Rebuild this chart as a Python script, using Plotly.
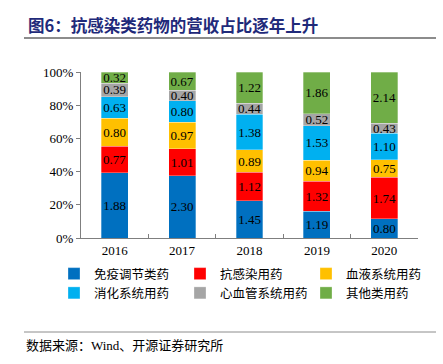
import plotly.graph_objects as go

years = ["2016", "2017", "2018", "2019", "2020"]
series_names = ["免疫调节类药", "抗感染用药", "血液系统用药", "消化系统用药", "心血管系统用药", "其他类用药"]
immune = [1.88, 2.30, 1.45, 1.19, 0.80]
anti_infect = [0.77, 1.01, 1.12, 1.32, 1.74]
blood = [0.80, 0.97, 0.89, 0.94, 0.75]
digest = [0.63, 0.80, 1.38, 1.53, 1.10]
cardio = [0.39, 0.40, 0.44, 0.52, 0.43]
other = [0.32, 0.67, 1.22, 1.86, 2.14]
y_ticks = [0, 20, 40, 60, 80, 100]
y_tick_labels = ["0%", "20%", "40%", "60%", "80%", "100%"]

series_values = [immune, anti_infect, blood, digest, cardio, other]
colors = ["#0070C0", "#FF0000", "#FFC000", "#00B0F0", "#A5A5A5", "#70AD47"]

SERIF = "Liberation Serif, Times New Roman, serif"
CJK = "Noto Sans CJK SC, sans-serif"

fig = go.Figure()
for name, vals, col in zip(series_names, series_values, colors):
    fig.add_trace(go.Bar(
        x=years, y=vals, name=name,
        marker=dict(color=col, line=dict(color="rgba(255,255,255,0.6)", width=0.5)),
        text=[f"{v:.2f}" for v in vals],
        texttemplate="%{text}",
        textposition="inside",
        insidetextanchor="middle",
        textangle=0,
        constraintext="none",
        textfont=dict(family=SERIF, size=13, color="black"),
        hoverinfo="skip",
    ))

W, H = 443, 364
L, R, T, B = 81, 25, 72, 126
pw, ph = W - L - R, H - T - B

def px(x):
    return (x - L) / pw

def py(y):
    return (H - B - y) / ph

fig.update_layout(
    width=W, height=H,
    margin=dict(l=L, r=R, t=T, b=B, pad=0, autoexpand=False),
    barmode="stack", barnorm="percent", bargap=0.6,
    plot_bgcolor="white", paper_bgcolor="white",
    showlegend=True,
    legend=dict(
        orientation="h", x=px(54), y=py(259), xanchor="left", yanchor="top",
        xref="paper", yref="paper",
        entrywidth=81, entrywidthmode="pixels",
        itemwidth=30, traceorder="normal",
        font=dict(family=CJK, size=12.5, color="#000000"),
        bgcolor="rgba(0,0,0,0)", tracegroupgap=0,
    ),
    xaxis=dict(
        showline=True, linecolor="#7f7f7f", linewidth=1,
        ticks="inside", tickson="boundaries", ticklen=4, tickcolor="#7f7f7f",
        tickfont=dict(family=SERIF, size=13, color="#000000"),
        showgrid=False, fixedrange=True,
    ),
    yaxis=dict(
        range=[0, 100], tickmode="array", tickvals=y_ticks, ticktext=y_tick_labels,
        showline=True, linecolor="#7f7f7f", linewidth=1,
        ticks="outside", ticklen=4, tickcolor="#7f7f7f",
        tickfont=dict(family=SERIF, size=13, color="#000000"),
        showgrid=False, zeroline=False, fixedrange=True,
    ),
    shapes=[
        dict(type="line", xref="paper", yref="paper", x0=px(24), x1=px(436), y0=py(38), y1=py(38),
             line=dict(color="#8c8c8c", width=2)),
        dict(type="line", xref="paper", yref="paper", x0=px(24), x1=px(436), y0=py(332), y1=py(332),
             line=dict(color="#8c8c8c", width=1)),
    ],
    annotations=[
        dict(text="<b>图6：抗感染类药物的营收占比逐年上升</b>", xref="paper", yref="paper",
             x=px(26), y=py(25), xanchor="left", yanchor="middle", showarrow=False,
             font=dict(family=CJK, size=16.5, color="#1F2A7A")),
        dict(text="数据来源：Wind、开源证券研究所", xref="paper", yref="paper",
             x=px(24), y=py(345), xanchor="left", yanchor="middle", showarrow=False,
             font=dict(family="Liberation Serif, Noto Sans CJK SC, serif", size=13, color="#000000")),
    ],
)

fig.write_html(
    "out.html",
    config={"displayModeBar": False, "staticPlot": True},
    post_script="document.body.style.margin='0';document.body.style.overflow='hidden';",
)
